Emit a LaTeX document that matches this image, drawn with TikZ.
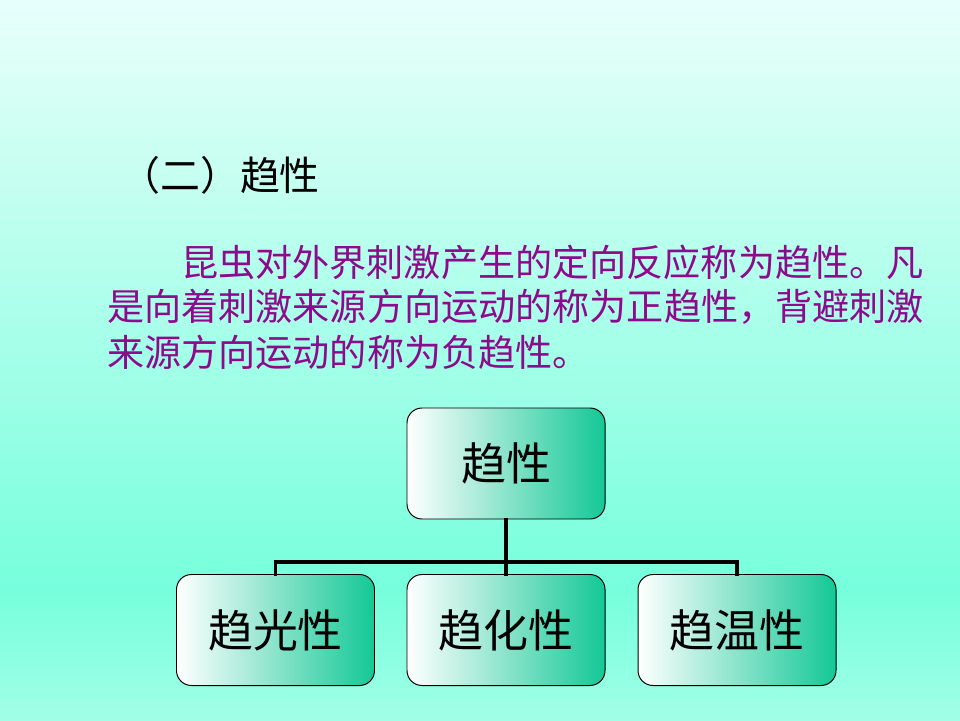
\documentclass[tikz,border=0pt]{standalone}
\usepackage{fontspec}
\usepackage{xcolor}
\usepackage{tikz}
\usetikzlibrary{positioning}
\newfontfamily\cjk{Noto Sans CJK SC}
\definecolor{bgtop}{RGB}{232,255,250}
\definecolor{bgmid}{RGB}{118,255,220}
\definecolor{bgbot}{RGB}{160,255,230}
\definecolor{txtpurple}{RGB}{140,10,140}
\definecolor{boxgreen}{RGB}{20,200,150}

\begin{document}
\begin{tikzpicture}[line join = round, line cap = round,
    box/.style={draw=black, line width=0.7pt, rounded corners=0.375cm,
      minimum width=4.95cm, minimum height=2.775cm, inner sep=0pt,
      left color=white, right color=boxgreen,
      font=\cjk\fontsize{32}{36}\selectfont},
    para/.style={anchor=west, inner sep=0pt, text=txtpurple,
      font=\cjk\fontsize{26.4}{30}\selectfont},
    link/.style={line width=2.6pt, line cap=rect, line join=miter}]
  % background
  \shade[top color=bgtop, bottom color=bgmid] (0,3.25) rectangle (24,18);
  \shade[top color=bgmid, bottom color=bgbot] (0,0) rectangle (24,3.25);
  \useasboundingbox (0,0) rectangle (24,18);
  % title
  \node[anchor=west, inner sep=0pt, font=\cjk\fontsize{28.4}{32}\selectfont]
    (title) at (3.0,13.625) {（二）趋性};
  % text
  \node[para] (line1) at (4.525,11.45) {昆虫对外界刺激产生的定向反应称为趋性。凡};
  \node[para] (line2) at (2.675,10.325) {是向着刺激来源方向运动的称为正趋性，背避刺激};
  \node[para] (line3) at (2.675,9.2) {来源方向运动的称为负趋性。};
  % boxes
  \node[box] (top) at (12.65,6.4125) {趋性};
  \node[box] (left) at (6.8875,2.25) {趋光性};
  \node[box] (mid) at (12.65,2.25) {趋化性};
  \node[box] (right) at (18.425,2.25) {趋温性};
  % connectors
  \coordinate (bar) at (0,3.95);
  \draw[link] (top.south) -- (mid.north);
  \draw[link] (left.north) -- (left.north |- bar) -- (right.north |- bar) -- (right.north);
\end{tikzpicture}
\end{document}
